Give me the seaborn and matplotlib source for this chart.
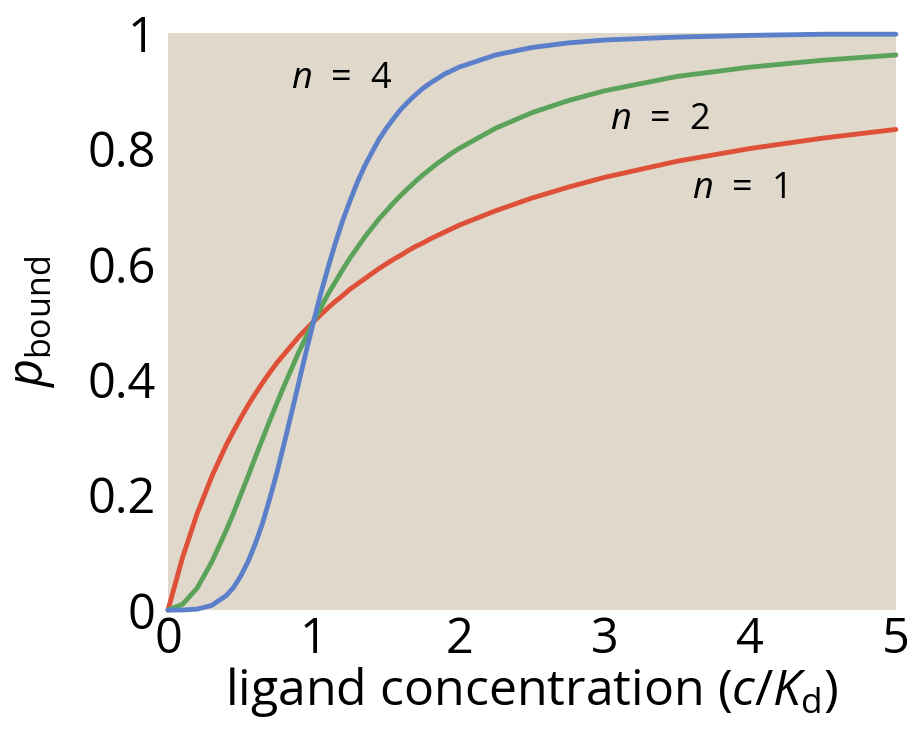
import numpy as np
import pandas as pd
import matplotlib
matplotlib.use('Agg')
import matplotlib.pyplot as plt
import seaborn as sns

# values
conc = [0.0, 0.1, 0.2, 0.3, 0.4, 0.45, 0.5, 0.55, 0.6, 0.65, 0.7, 0.75, 0.8, 0.85, 0.9, 0.95,
        1.0, 1.05, 1.1, 1.15, 1.2, 1.25, 1.3, 1.35, 1.4, 1.45, 1.5, 1.55, 1.6, 1.65,
        1.7, 1.75, 1.8, 1.85, 1.9, 1.95, 2.0, 2.25, 2.5, 2.75, 3.0, 3.5, 4.0, 4.5, 5.0]
p_n1 = [0.0, 0.091, 0.167, 0.231, 0.286, 0.310, 0.333, 0.355, 0.375, 0.394, 0.412, 0.429,
        0.444, 0.459, 0.474, 0.487, 0.5, 0.512, 0.524, 0.535, 0.545, 0.556, 0.565, 0.574,
        0.583, 0.592, 0.6, 0.608, 0.615, 0.623, 0.63, 0.636, 0.643, 0.649, 0.655, 0.661,
        0.667, 0.692, 0.714, 0.733, 0.75, 0.778, 0.8, 0.818, 0.833]
p_n2 = [0.0, 0.01, 0.038, 0.083, 0.138, 0.168, 0.2, 0.232, 0.265, 0.297, 0.329, 0.36,
        0.39, 0.419, 0.448, 0.474, 0.5, 0.524, 0.548, 0.569, 0.59, 0.61, 0.628, 0.646,
        0.662, 0.678, 0.692, 0.706, 0.719, 0.731, 0.743, 0.754, 0.764, 0.774, 0.783, 0.792,
        0.8, 0.835, 0.862, 0.883, 0.9, 0.925, 0.941, 0.953, 0.962]
p_n4 = [0.0, 0.0001, 0.0016, 0.008, 0.025, 0.039, 0.059, 0.084, 0.115, 0.151, 0.194, 0.240,
        0.291, 0.343, 0.396, 0.449, 0.5, 0.549, 0.594, 0.636, 0.675, 0.709, 0.741, 0.769,
        0.793, 0.816, 0.835, 0.852, 0.868, 0.881, 0.893, 0.904, 0.913, 0.921, 0.929, 0.935,
        0.941, 0.962, 0.975, 0.983, 0.988, 0.993, 0.996, 0.998, 0.998]

df = pd.DataFrame({'c': conc * 3,
                   'p': p_n1 + p_n2 + p_n4,
                   'n': ['1'] * len(conc) + ['2'] * len(conc) + ['4'] * len(conc)})

sns.set_style('white', {'axes.facecolor': '#e0d9cb', 'text.color': 'black',
                        'axes.labelcolor': 'black'})
plt.rcParams['font.family'] = ['Open Sans', 'DejaVu Sans']
plt.rcParams['mathtext.fontset'] = 'custom'
plt.rcParams['mathtext.rm'] = 'Open Sans'
plt.rcParams['mathtext.it'] = 'Open Sans:italic'

fig = plt.figure(figsize=(9.11, 7.35), dpi=100)
ax = fig.add_axes([0.1844, 0.170, 0.799, 0.785])

colors = {'1': '#de5037', '2': '#5ba35a', '4': '#5b80c9'}
sns.lineplot(data=df, x='c', y='p', hue='n', palette=colors, linewidth=3.5,
             legend=False, ax=ax)
for line in ax.lines:
    line.set_clip_on(False)
    line.set_solid_joinstyle('round')

ax.set_xlim(0, 5)
ax.set_ylim(0, 1)
ax.set_xticks([0, 1, 2, 3, 4, 5])
ax.set_yticks([0, 0.2, 0.4, 0.6, 0.8, 1])
ax.set_xticklabels(['0', '1', '2', '3', '4', '5'])
ax.set_yticklabels(['0', '0.2', '0.4', '0.6', '0.8', '1'])
ax.tick_params(direction='in', length=8, width=2, color='white',
               labelcolor='black', labelsize=35)
ax.tick_params(axis='x', pad=4)
ax.tick_params(axis='y', pad=9)
for s in ax.spines.values():
    s.set_visible(False)

ax.set_xlabel('ligand concentration ($c$/$K_{\\mathrm{d}}$)', fontsize=36, labelpad=0)
ax.set_ylabel('$p_{\\mathrm{bound}}$', fontsize=35, labelpad=22)

ax.text(1.19, 0.92, '$n$  =  4', fontsize=26, ha='center', va='center')
ax.text(3.38, 0.85, '$n$  =  2', fontsize=26, ha='center', va='center')
ax.text(3.92, 0.73, '$n$  =  1', fontsize=26, ha='center', va='center')

fig.savefig('out.png', dpi=100)
